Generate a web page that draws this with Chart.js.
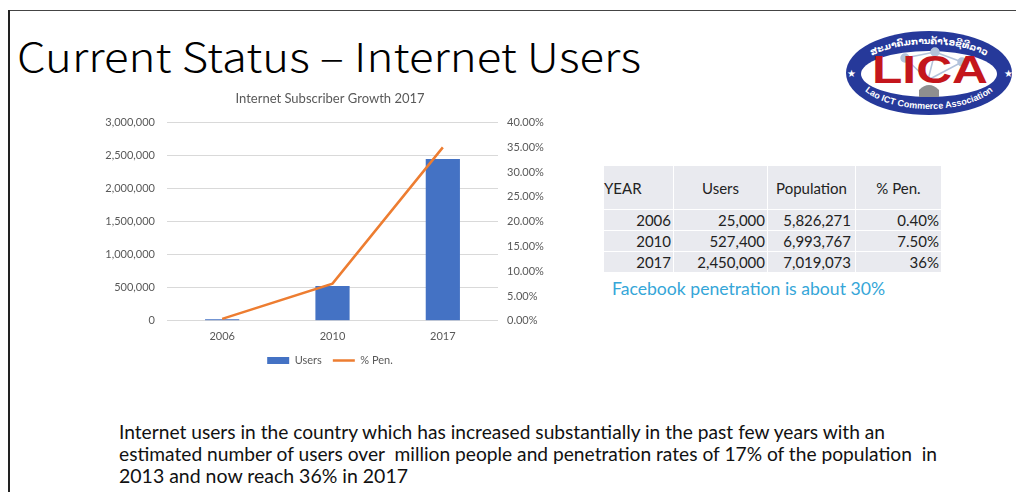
<!DOCTYPE html>
<html>
<head>
<meta charset="utf-8">
<script src="https://cdn.jsdelivr.net/npm/chart.js@4.4.1/dist/chart.umd.min.js"></script>
<style>
  html, body { margin: 0; padding: 0; background: #fff; }
  #slide { position: relative; width: 1016px; height: 492px; overflow: hidden; background: #fff; }
  .topline { position: absolute; left: 8px; top: 10px; width: 1008px; height: 1px; background: #444; }
  .leftline { position: absolute; left: 8px; top: 10px; width: 2px; height: 482px; background: #222; }
  .fit { position: absolute; white-space: pre; transform-origin: 0 50%; display: inline-block; }
  #heading { left: 17px; top: 29px; font-family: "Noto Sans CJK JP", sans-serif; font-weight: 300; font-size: 40px; line-height: 52px; color: #000; }
  #chartBox { position: absolute; left: 100px; top: 85px; width: 460px; height: 291px; }
  #tbl { position: absolute; left: 603px; top: 165px; border-collapse: collapse; font-family: Lato, sans-serif; font-size: 15px; color: #222; }
  #tbl td { background: #e9eaef; border: 1px solid #fff; padding: 0 2px; height: 20px; text-align: right; }
  #tbl tr.head td { height: 43px; text-align: center; }
  #tbl tr.head td:first-child { text-align: left; padding-left: 0; }
  #fb { left: 612px; top: 278px; font-family: Lato, sans-serif; font-size: 16.5px; line-height: 22px; color: #35a6d8; }
  .para { left: 119px; font-family: "Liberation Sans Narrow", Lato, sans-serif; font-size: 18.5px; line-height: 22px; color: #111; }
  #logo { position: absolute; left: 840px; top: 20px; }
</style>
</head>
<body>
<div id="slide">
  <div class="topline"></div>
  <div class="leftline"></div>
  <div id="heading" class="fit" data-w="624">Current Status – Internet Users</div>

  <svg id="logo" width="176" height="100" viewBox="840 20 176 100">
    <defs>
      <path id="arcTop" d="M 857 74 A 72 30 0 0 1 1001 74"/>
      <path id="arcBot" d="M 855 73 A 74 36 0 0 0 1003 73"/>
    </defs>
    <ellipse cx="929" cy="73" rx="83" ry="42" fill="#26399a"/>
    <ellipse cx="929" cy="74" rx="68" ry="23" fill="#fff"/>
    <g stroke="#b3c3db" stroke-width="1.5" fill="#b3c3db">
      <line x1="905" y1="58" x2="935" y2="52"/>
      <line x1="935" y1="52" x2="962" y2="62"/>
      <line x1="905" y1="58" x2="928" y2="80"/>
      <line x1="935" y1="52" x2="928" y2="80"/>
      <line x1="962" y1="62" x2="928" y2="80"/>
      <circle cx="905" cy="58" r="4"/>
      <circle cx="935" cy="52" r="4"/>
      <circle cx="962" cy="62" r="4"/>
    </g>
    <path d="M 919 97 L 919 90 Q 929 80 939 90 L 939 97 Z" fill="#8f8f8f"/>
    <text x="930" y="83" text-anchor="middle" font-family="Liberation Sans, sans-serif" font-weight="bold" font-size="38" fill="#c4161c" textLength="116" lengthAdjust="spacingAndGlyphs">LICA</text>
    <text font-family="DejaVu Sans, sans-serif" font-weight="bold" font-size="9" fill="#fff">
      <textPath href="#arcTop" startOffset="50%" text-anchor="middle">ສະມາຄົມການຄ້າໄອຊີທີລາວ</textPath>
    </text>
    <text font-family="Liberation Sans, sans-serif" font-weight="bold" font-size="9" fill="#fff">
      <textPath href="#arcBot" startOffset="50%" text-anchor="middle">Lao ICT Commerce Association</textPath>
    </text>
    <text x="851" y="77" text-anchor="middle" font-size="10" fill="#fff">★</text>
    <text x="1008" y="77" text-anchor="middle" font-size="10" fill="#fff">★</text>
  </svg>

  <div id="chartBox"><canvas id="myChart"></canvas></div>

  <table id="tbl"></table>
  <div id="fb" class="fit" data-w="273">Facebook penetration is about 30%</div>

  <div class="para fit" style="top:421px" data-w="766">Internet users in the country which has increased substantially in the past few years with an</div>
  <div class="para fit" style="top:443px" data-w="818">estimated number of users over  million people and penetration rates of 17% of the population  in</div>
  <div class="para fit" style="top:465px" data-w="289">2013 and now reach 36% in 2017</div>
</div>

<script>
// datos del grafico
const years = ['2006', '2010', '2017'];
const users = [25000, 527400, 2450000];
const penetration = [0.004, 0.075, 0.35]; // linea tal como se ve en la grafica

// datos de la tabla
const tableHead = ['YEAR', 'Users', 'Population', '% Pen.'];
const population = [5826271, 6993767, 7019073];
const penLabels = ['0.40%', '7.50%', '36%'];

const fmt = n => n.toLocaleString('en-US');

// tabla
const tbl = document.getElementById('tbl');
let html = '<tr class="head">' + tableHead.map(h => '<td>' + h + '</td>').join('') + '</tr>';
years.forEach((y, i) => {
    html += '<tr><td style="width:65px">' + y + '</td><td style="width:89px">' + fmt(users[i]) +
        '</td><td style="width:81px;padding-right:4px">' + fmt(population[i]) + '</td><td style="width:81px">' + penLabels[i] + '</td></tr>';
});
tbl.innerHTML = html;

// ajustar ancho de textos
document.querySelectorAll('.fit').forEach(el => {
    const w = el.getBoundingClientRect().width;
    el.style.transform = 'scaleX(' + (el.dataset.w / w) + ')';
});

const grey = '#595959';
const ctx = document.getElementById('myChart').getContext('2d');

const myChart = new Chart(ctx, {
    data: {
        labels: years,
        datasets: [{
            type: 'bar',
            label: 'Users',
            data: users,
            backgroundColor: '#4472C4',
            borderWidth: 0,
            yAxisID: 'y',
            order: 1,
            barPercentage: 0.31,
            categoryPercentage: 1,
            pointStyle: 'rect'
        }, {
            type: 'line',
            label: '% Pen.',
            data: penetration,
            borderColor: '#ED7D31',
            backgroundColor: '#ED7D31',
            borderWidth: 2.5,
            pointRadius: 0,
            tension: 0,
            yAxisID: 'y1',
            order: 0,
            pointStyle: 'line'
        }]
    },
    options: {
        responsive: true,
        maintainAspectRatio: false,
        animation: false,
        plugins: {
            title: {
                display: true,
                text: 'Internet Subscriber Growth 2017',
                color: grey,
                font: { family: 'Lato', size: 13, weight: 'normal' },
                padding: { top: 6, bottom: 16 }
            },
            legend: {
                position: 'bottom',
                labels: {
                    usePointStyle: true,
                    boxHeight: 7,
                    pointStyleWidth: 22,
                    padding: 11,
                    color: grey,
                    font: { family: 'Lato', size: 11 },
                    sort: (a, b) => a.datasetIndex - b.datasetIndex
                }
            },
            tooltip: { enabled: false }
        },
        scales: {
            x: {
                grid: { display: false },
                border: { display: false },
                ticks: { color: grey, font: { family: 'Lato', size: 11 }, padding: 1 }
            },
            y: {
                position: 'left',
                min: 0,
                max: 3000000,
                grid: { color: '#d9d9d9', drawTicks: false },
                border: { display: false },
                ticks: {
                    stepSize: 500000,
                    padding: 12,
                    color: grey,
                    font: { family: 'Lato', size: 11 },
                    callback: v => fmt(v)
                },
                afterFit: s => { s.width = 67; }
            },
            y1: {
                position: 'right',
                min: 0,
                max: 0.4,
                grid: { display: false, drawTicks: false },
                border: { display: false },
                ticks: {
                    stepSize: 0.05,
                    padding: 9,
                    color: grey,
                    font: { family: 'Lato', size: 11 },
                    callback: v => (v * 100).toFixed(2) + '%'
                },
                afterFit: s => { s.width = 62; }
            }
        }
    }
});
</script>
</body>
</html>
